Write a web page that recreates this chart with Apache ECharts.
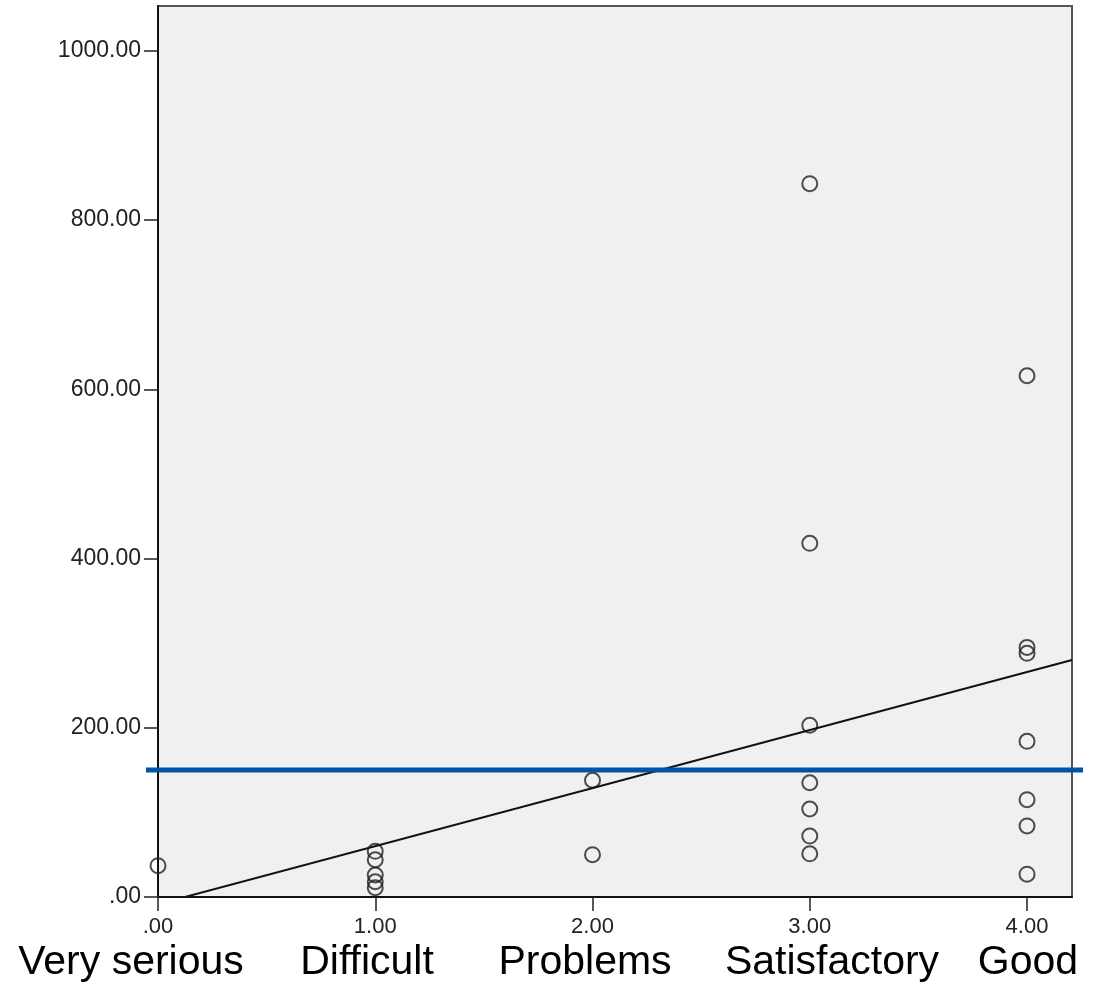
<!DOCTYPE html>
<html>
<head>
<meta charset="utf-8">
<script src="https://cdn.jsdelivr.net/npm/echarts@6/dist/echarts.min.js"></script>
<style>
html,body{margin:0;padding:0;background:#fff;}
#c{width:1103px;height:994px;}
</style>
</head>
<body>
<div id="c"></div>
<script>
// Data
var categories = ['Very serious', 'Difficult', 'Problems', 'Satisfactory', 'Good'];
var xTicks = [0, 1, 2, 3, 4];
var yTicks = [0, 200, 400, 600, 800, 1000];
var pointsX0 = [37];
var pointsX1 = [54, 44, 26, 18, 11];
var pointsX2 = [138, 50];
var pointsX3 = [843, 418, 203, 135, 104, 72, 51];
var pointsX4 = [616, 295, 288, 184, 115, 84, 27];
var fitX = [0, 4.207];
var fitY = [-8.5, 280];
var refValue = 150;

var groups = [pointsX0, pointsX1, pointsX2, pointsX3, pointsX4];
var scatterData = [];
groups.forEach(function (g, i) { g.forEach(function (v) { scatterData.push([xTicks[i], v]); }); });

var font = 'Liberation Sans, Arial, sans-serif';
var chart = echarts.init(document.getElementById('c'), null, {renderer: 'canvas'});
var catCenters = [131, 367, 585, 832, 1028];

chart.setOption({
  animation: false,
  backgroundColor: '#ffffff',
  grid: [
    {left: 158, right: 31, top: 6, bottom: 97, show: true, backgroundColor: '#f0f0f0', borderColor: '#555', borderWidth: 2},
    {left: 146, right: 20, top: 6, bottom: 97, show: false}
  ],
  xAxis: [
    {gridIndex: 0, type: 'value', min: 0, max: 4.207, interval: 1,
     axisLine: {show: true, onZero: false, lineStyle: {color: '#111', width: 2}},
     axisTick: {show: true, length: 14, lineStyle: {color: '#222', width: 1.5}},
     axisLabel: {margin: 19, fontSize: 22, fontFamily: font, color: '#222', showMaxLabel: false,
       formatter: function (v) { if (xTicks.indexOf(v) < 0) return ''; return v === 0 ? '.00' : v.toFixed(2); }},
     splitLine: {show: false}},
    {gridIndex: 1, type: 'value', min: 0, max: 1, show: false}
  ],
  yAxis: [
    {gridIndex: 0, type: 'value', min: 0, max: 1053, interval: 200,
     axisLine: {show: true, onZero: false, lineStyle: {color: '#111', width: 2}},
     axisTick: {show: true, length: 14, lineStyle: {color: '#222', width: 1.5}},
     axisLabel: {margin: 17, fontSize: 23, fontFamily: font, color: '#222', showMaxLabel: false,
       formatter: function (v) { if (yTicks.indexOf(v) < 0) return ''; return v === 0 ? '.00' : v.toFixed(2); }},
     splitLine: {show: false}},
    {gridIndex: 1, type: 'value', min: 0, max: 1053, show: false}
  ],
  series: [
    {type: 'scatter', xAxisIndex: 0, yAxisIndex: 0, data: scatterData, symbol: 'circle', symbolSize: 15,
     itemStyle: {color: 'rgba(0,0,0,0)', borderColor: '#222', borderWidth: 2}, z: 3},
    {type: 'line', xAxisIndex: 0, yAxisIndex: 0, data: [[fitX[0], fitY[0]], [fitX[1], fitY[1]]],
     showSymbol: false, symbol: 'none', clip: true, lineStyle: {color: '#111', width: 2}, z: 4},
    {type: 'line', xAxisIndex: 1, yAxisIndex: 1, data: [[0, refValue], [1, refValue]],
     showSymbol: false, symbol: 'none', clip: false, lineStyle: {color: '#0054a6', width: 5}, z: 5}
  ],
  graphic: categories.map(function (name, i) {
    return {type: 'text', x: catCenters[i], y: 963, silent: true,
      style: {text: name, font: '41px ' + font, fill: '#000', textAlign: 'center', textVerticalAlign: 'middle'}};
  })
});
</script>
</body>
</html>
